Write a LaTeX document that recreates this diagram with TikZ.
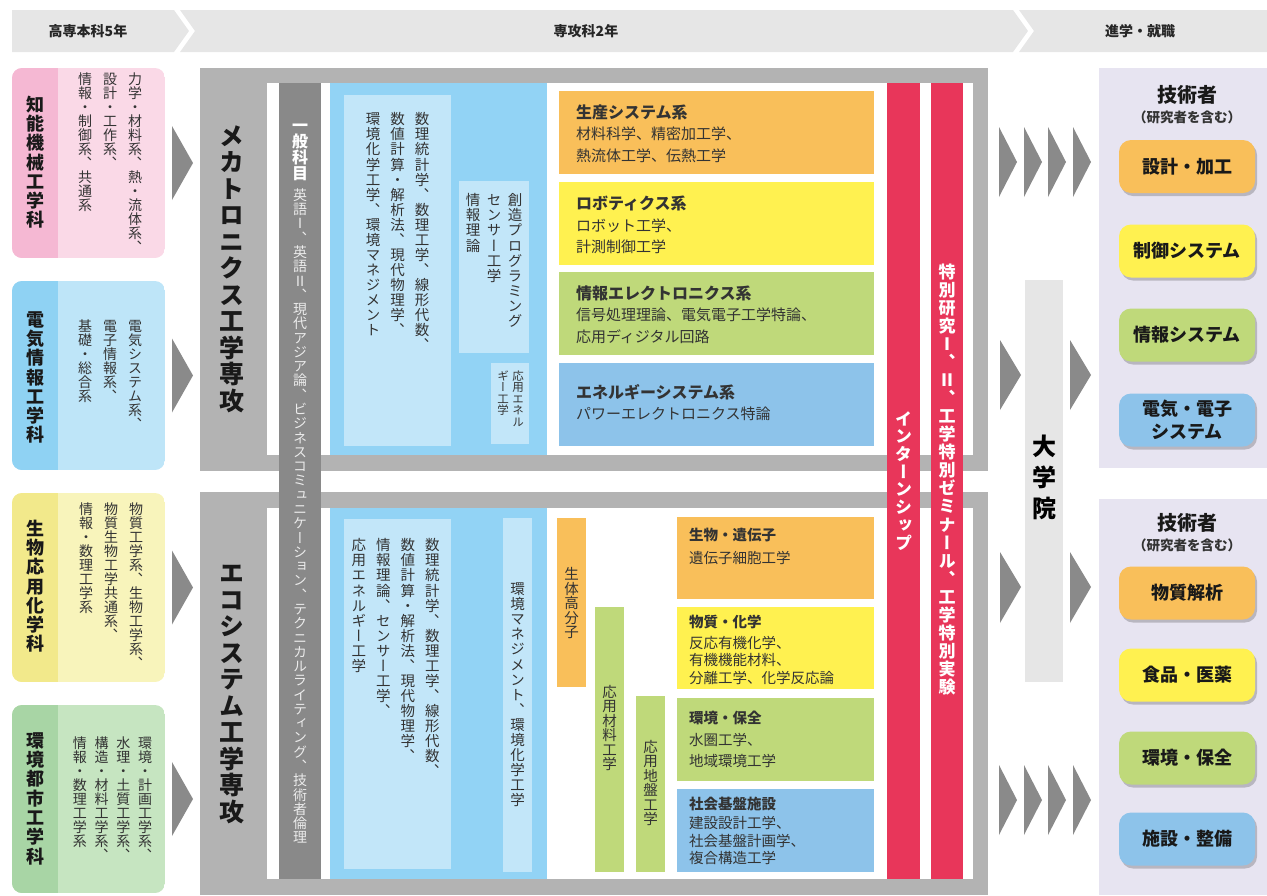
\documentclass[tikz,border=0pt]{standalone}
\usepackage{fontspec}
\setmainfont{Noto Sans CJK JP}
\newfontfamily\vfont{Noto Sans CJK JP}[RawFeature=+vert]
\usetikzlibrary{shadows}

\definecolor{txt}{HTML}{333333}
\definecolor{hdrgray}{HTML}{E6E6E6}
\definecolor{framegray}{HTML}{B3B3B3}
\definecolor{genbar}{HTML}{898989}
\definecolor{arr}{HTML}{8A8A8A}
\definecolor{crsblue}{HTML}{92D3F5}
\definecolor{crslight}{HTML}{C2E6F9}
\definecolor{intern}{HTML}{E8365A}
\definecolor{gradbg}{HTML}{E6E6E6}
\definecolor{carbg}{HTML}{E7E4F1}
\definecolor{cOr}{HTML}{F9BF5A}
\definecolor{cYe}{HTML}{FFF150}
\definecolor{cGr}{HTML}{BFD97A}
\definecolor{cBl}{HTML}{8DC3EA}
\definecolor{pinkD}{HTML}{F5B8D3}
\definecolor{pinkL}{HTML}{FAD9E7}
\definecolor{skyD}{HTML}{8FD2F3}
\definecolor{skyL}{HTML}{BEE5F8}
\definecolor{lemD}{HTML}{F2E98B}
\definecolor{lemL}{HTML}{F8F4BB}
\definecolor{mintD}{HTML}{A8D5A5}
\definecolor{mintL}{HTML}{C6E5C1}

\makeatletter
\newcommand\vcol[2][0pt]{\vtop{\offinterlineskip\def\vc@gap{#1}\vc@loop#2\vc@end}}
\def\vc@end{\vc@end@}
\def\vc@loop#1{\ifx\vc@end#1\else\hbox to 1em{\hss\raisebox{0pt}[.88em][.12em]{#1}\hss}\kern\vc@gap\expandafter\vc@loop\fi}
\makeatother

\tikzset{
  hdrtxt/.style={font=\bfseries\fontsize{14}{14}\selectfont, text=black!85},
  deptitle/.style={font=\vfont\bfseries\fontsize{18}{18}\selectfont, text=black!90},
  deptbody/.style={font=\vfont\fontsize{14}{14}\selectfont},
  major/.style={font=\vfont\bfseries\fontsize{25}{25}\selectfont, text=black!90},
  gentitle/.style={anchor=north, font=\vfont\bfseries\fontsize{16}{16}\selectfont, text=white},
  genbody/.style={anchor=north, font=\vfont\fontsize{14}{14}\selectfont, text=black!8},
  crs/.style={font=\vfont\fontsize{14.5}{14.5}\selectfont},
  crssmall/.style={font=\vfont\fontsize{11.5}{11.5}\selectfont},
  redtxt/.style={font=\vfont\bfseries\fontsize{17}{17}\selectfont, text=white},
  gradtxt/.style={font=\vfont\bfseries\fontsize{24}{24}\selectfont, text=black},
  unit/.style={anchor=west, align=left, font=\fontsize{15}{21.5}\selectfont},
  unitlow/.style={anchor=west, align=left, font=\fontsize{14.5}{17.5}\selectfont},
  engtitle/.style={font=\bfseries\fontsize{20}{20}\selectfont, text=black!90},
  engsub/.style={font=\bfseries\fontsize{13.5}{13.5}\selectfont, text=black!80},
  career/.style={minimum width=136pt, minimum height=53pt, rounded corners=12pt,
    align=center, font=\bfseries\fontsize{18}{23}\selectfont, text=black!90,
    drop shadow={shadow xshift=2pt, shadow yshift=-3pt, fill=black, opacity=.2}}
}

\begin{document}
\begin{tikzpicture}[x=1pt,y=-1pt,every node/.style={inner sep=0pt,outer sep=0pt,text=txt}]
\useasboundingbox (0,0) rectangle (1267,895);

\fill[hdrgray] (12,10) -- (174,10) -- (189,31) -- (174,52) -- (12,52) -- cycle;
\fill[hdrgray] (180,10) -- (1013,10) -- (1028,31) -- (1013,52) -- (180,52) -- (195,31) -- cycle;
\fill[hdrgray] (1019,10) -- (1267,10) -- (1267,52) -- (1019,52) -- (1034,31) -- cycle;
\node[hdrtxt] (h1) at (88,31) {高専本科5年};
\node[hdrtxt] (h2) at (586,31) {専攻科2年};
\node[hdrtxt] (h3) at (1140,31) {進学・就職};

\foreach \ya/\yb/\dk/\lt in {68/258/pinkD/pinkL, 281/470/skyD/skyL, 493/682/lemD/lemL, 705/893/mintD/mintL}{
  \begin{scope}
    \clip[rounded corners=10pt] (12,\ya) rectangle (165,\yb);
    \fill[\lt] (12,\ya) rectangle (165,\yb);
    \fill[\dk] (12,\ya) rectangle (58,\yb);
  \end{scope}
  \fill[arr] (172,{(\ya+\yb)/2-37}) -- (193,{(\ya+\yb)/2}) -- (172,{(\ya+\yb)/2+37}) -- cycle;
}
\node[deptitle] (d1) at (35,163) {\vcol[.07em]{知能機械工学科}};
\node[deptbody] (d1s) at (110,163) {\vcol{情報・制御系、共通系}\hskip11pt\vcol{設計・工作系、}\hskip11pt\vcol{力学・材料系、熱・流体系、}};
\node[deptitle] (d2) at (35,378) {\vcol[.07em]{電気情報工学科}};
\node[deptbody] (d2s) at (110,375) {\vcol{基礎・総合系}\hskip11pt\vcol{電子情報系、}\hskip11pt\vcol{電気システム系、}};
\node[deptitle] (d3) at (35,587) {\vcol[.07em]{生物応用化学科}};
\node[deptbody] (d3s) at (111,586) {\vcol{情報・数理工学系}\hskip11pt\vcol{物質生物工学共通系、}\hskip11pt\vcol{物質工学系、生物工学系、}};
\node[deptitle] (d4) at (35,799) {\vcol[.07em]{環境都市工学科}};
\node[deptbody] (d4s) at (112.5,799) {\vcol{情報・数理工学系}\hskip7.7pt\vcol{構造・材料工学系、}\hskip7.7pt\vcol{水理・土質工学系、}\hskip7.7pt\vcol{環境・計画工学系、}};

\fill[framegray] (200,68) rectangle (988,471);
\fill[white] (267,83) rectangle (973,455);
\fill[framegray] (200,492) rectangle (988,895);
\fill[white] (267,508) rectangle (973,879);
\node[major] (mecha) at (232,269) {\vcol[.06em]{メカトロニクス工学専攻}};
\node[major] (eco) at (232,693) {\vcol[.06em]{エコシステム工学専攻}};

\fill[crsblue] (330,83) rectangle (547,455);
\fill[crslight] (344,95) rectangle (451,446);
\fill[crslight] (459,181) rectangle (529,353);
\fill[crslight] (491,363) rectangle (529,444);
\fill[crsblue] (330,508) rectangle (547,879);
\fill[crslight] (344,519) rectangle (451,869);
\fill[crslight] (503,518) rectangle (532,872);

\node[crs, anchor=north] (mcore) at (397.5,112) {\vcol[.04em]{環境化学工学、環境マネジメント}\hskip10pt\vcol[.04em]{数値計算・解析法、現代物理学、}\hskip10pt\vcol[.04em]{数理統計学、数理工学、線形代数、}};
\node[crs, anchor=north] (mside) at (494,193) {\vcol[.04em]{情報理論}\hskip6.5pt\vcol[.04em]{センサー工学}\hskip6.5pt\vcol[.04em]{創造プログラミング}};
\node[crssmall, anchor=north] (menergy) at (510.5,370) {\vcol{ギー工学}\hskip3.5pt\vcol{応用エネル}};
\node[crs, anchor=north] (ecore) at (395.5,538) {\vcol[.04em]{応用エネルギー工学}\hskip10pt\vcol[.04em]{情報理論、センサー工学、}\hskip10pt\vcol[.04em]{数値計算・解析法、現代物理学、}\hskip10pt\vcol[.04em]{数理統計学、数理工学、線形代数、}};
\node[crs] (eenv) at (517.5,695) {\vcol[.04em]{環境マネジメント、環境化学工学}};

\fill[genbar] (279,83) rectangle (321,879);
\node[gentitle] (gen) at (300,117) {\vcol{一般科目}};
\node[genbody] (genlist) at (300,188) {\vcol[.02em]{英語Ⅰ、英語Ⅱ、現代アジア論、ビジネスコミュニケーション、テクニカルライティング、技術者倫理}};

\fill[cOr] (559,91) rectangle (874,174);
\fill[cYe] (559,182) rectangle (874,265);
\fill[cGr] (559,272) rectangle (874,355);
\fill[cBl] (559,363) rectangle (874,446);
\node[unit] (u1) at (576,133.5) {{\fontsize{16}{21.5}\selectfont\bfseries 生産システム系}\\材料科学、精密加工学、\\熱流体工学、伝熱工学};
\node[unit] (u2) at (576,225) {{\fontsize{16}{21.5}\selectfont\bfseries ロボティクス系}\\ロボット工学、\\計測制御工学};
\node[unit] (u3) at (576,314.5) {{\fontsize{16}{21.5}\selectfont\bfseries 情報エレクトロニクス系}\\信号処理理論、電気電子工学特論、\\応用ディジタル回路};
\node[unit] (u4) at (576,402.5) {{\fontsize{16}{21.5}\selectfont\bfseries エネルギーシステム系}\\パワーエレクトロニクス特論};

\fill[cOr] (557,518) rectangle (586,687);
\fill[cGr] (595,607) rectangle (624,872);
\fill[cGr] (636,696) rectangle (665,872);
\node[crs] (bio) at (571.5,603) {\vcol{生体高分子}};
\node[crs] (mat) at (609.5,728) {\vcol{応用材料工学}};
\node[crs] (geo) at (650.5,783) {\vcol{応用地盤工学}};

\fill[cOr] (677,517) rectangle (874,599);
\fill[cYe] (677,607) rectangle (874,689);
\fill[cGr] (677,698) rectangle (874,781);
\fill[cBl] (677,789) rectangle (874,872);
\node[unitlow] (l1) at (689,546.5) {{\bfseries 生物・遺伝子}\\[5.5pt]遺伝子細胞工学};
\node[unitlow] (l2) at (689,649.5) {{\bfseries 物質・化学}\\[3.5pt]反応有機化学、\\有機機能材料、\\分離工学、化学反応論};
\node[unitlow] (l3) at (689,739.5) {{\bfseries 環境・保全}\\[4.5pt]水圏工学、\\[3.5pt]地域環境工学};
\node[unitlow] (l4) at (689,831) {{\bfseries 社会基盤施設}\\[1.5pt]建設設計工学、\\社会基盤計画学、\\複合構造工学};

\fill[intern] (887,83) rectangle (920,879);
\fill[intern] (931,83) rectangle (963,879);
\node[redtxt] (internship) at (903.5,481) {\vcol[.04em]{インターンシップ}};
\node[redtxt] (research) at (947,480) {\vcol[.06em]{特別研究Ⅰ、Ⅱ、工学特別ゼミナール、工学特別実験}};

\foreach \x in {999,1024,1048,1073}{
  \fill[arr] (\x,127) -- (\x+18,162) -- (\x,197) -- cycle;
  \fill[arr] (\x,765) -- (\x+18,800) -- (\x,835) -- cycle;
}
\foreach \x in {1000,1070}{
  \fill[arr] (\x,340) -- (\x+21,375) -- (\x,410) -- cycle;
  \fill[arr] (\x,552) -- (\x+21,587) -- (\x,623) -- cycle;
}
\fill[gradbg] (1025,280) rectangle (1063,682);
\node[gradtxt] (grad) at (1044,481) {\vcol[.3em]{大学院}};

\fill[carbg] (1099,68) rectangle (1267,468);
\fill[carbg] (1099,499) rectangle (1267,895);
\node[engtitle] (eng1) at (1187,95) {技術者};
\node[engsub] (eng1s) at (1187,117) {（研究者を含む）};
\node[engtitle] (eng2) at (1187,523) {技術者};
\node[engsub] (eng2s) at (1187,545) {（研究者を含む）};
\node[career, fill=cOr] (k1) at (1187,166.5) {設計・加工};
\node[career, fill=cYe] (k2) at (1187,251) {制御システム};
\node[career, fill=cGr] (k3) at (1187,335) {情報システム};
\node[career, fill=cBl] (k4) at (1187,420) {電気・電子\\システム};
\node[career, fill=cOr] (k5) at (1187,593) {物質解析};
\node[career, fill=cYe] (k6) at (1187,675) {食品・医薬};
\node[career, fill=cGr] (k7) at (1187,758) {環境・保全};
\node[career, fill=cBl] (k8) at (1187,839) {施設・整備};
\end{tikzpicture}
\end{document}
